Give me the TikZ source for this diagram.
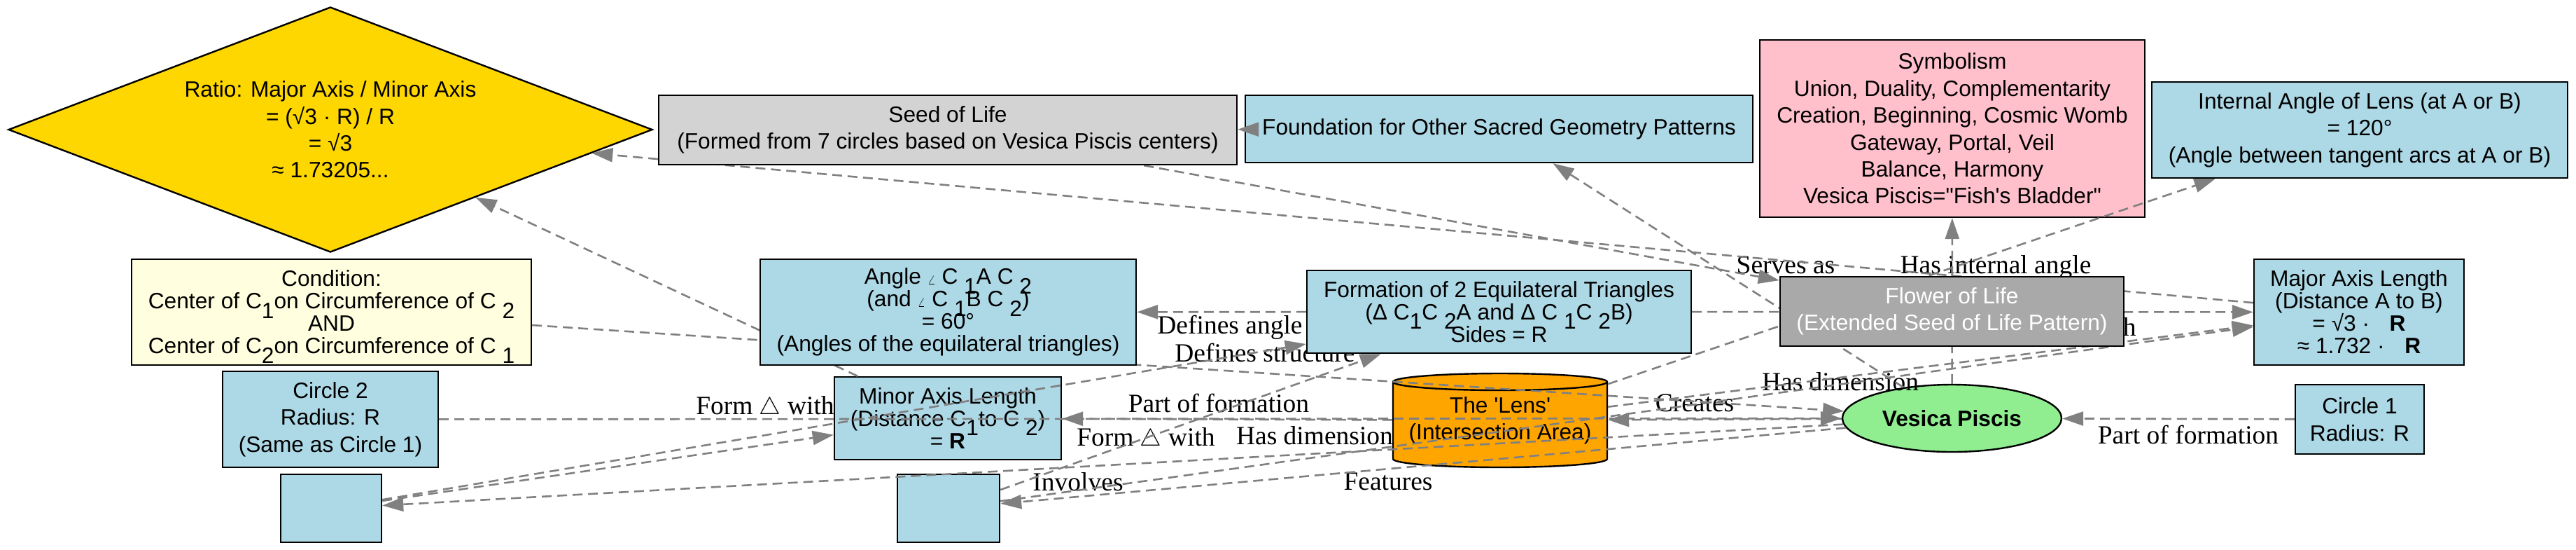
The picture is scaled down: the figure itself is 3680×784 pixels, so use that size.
\documentclass[tikz,border=0pt]{standalone}
\usepackage{fontspec}
\setmainfont{Liberation Sans}
\newfontfamily\lblfont{Liberation Serif}
\usetikzlibrary{shapes.geometric,arrows.meta}
\pgfdeclarelayer{front}
\pgfsetlayers{main,front}
\definecolor{gvblue}{HTML}{ADD8E6}
\definecolor{gvpink}{HTML}{FFC0CB}
\definecolor{gvyellow}{HTML}{FFFFE0}
\definecolor{gvgold}{HTML}{FFD700}
\definecolor{gvorange}{HTML}{FFA500}
\definecolor{gvgreen}{HTML}{90EE90}
\definecolor{gvlgray}{HTML}{D3D3D3}
\definecolor{gvdgray}{HTML}{A9A9A9}
\definecolor{gvedge}{HTML}{808080}
\newcommand\sbs[1]{\raisebox{-0.42em}[0pt][0pt]{#1}}
\newcommand\angsym{{\small$\angle$}}
\begin{document}
\begin{tikzpicture}[x=0.5pt,y=-0.5pt,
  nd/.style={rectangle, draw=black, line width=1.2pt, inner sep=0pt, align=center,
             font=\fontsize{15.85pt}{19.2pt}\selectfont},
  ht/.style={nd, font=\fontsize{15.85pt}{16pt}\selectfont},
  conn/.style={draw=gvedge, line width=1.3pt, dash pattern=on 7pt off 4pt,
               -{Triangle[length=15pt,width=10pt]}},
  lbl/.style={inner sep=0pt, font=\lblfont\fontsize{18.75pt}{20pt}\selectfont}]
\fill[white] (0,0) rectangle (3680,784);
\useasboundingbox (0,0) rectangle (3680,784);

% nodes lying under the connectors
\node[nd, shape=diamond, fill=gvgold, aspect=2.63, minimum width=460pt, minimum height=175pt] (ratio) at (472,185)
  {Ratio: Major Axis / Minor Axis\\= (√3 · R) / R\\= √3\\≈ 1.73205...};
\node[nd, fill=gvpink, minimum width=275pt, minimum height=126.5pt] (symb) at (2789,183.5)
  {Symbolism\\Union, Duality, Complementarity\\Creation, Beginning, Cosmic Womb\\Gateway, Portal, Veil\\Balance, Harmony\\Vesica Piscis=\textquotedbl Fish\textquotesingle s Bladder\textquotedbl};
\node[nd, fill=gvblue, minimum width=297pt, minimum height=68.5pt] (iang) at (3371,185.5)
  {Internal Angle of Lens (at A or B)\\= 120°\\(Angle between tangent arcs at A or B)};
\node[nd, fill=gvblue, minimum width=362.5pt, minimum height=48pt] (found) at (2141.5,184)
  {Foundation for Other Sacred Geometry Patterns};
\node[ht, fill=gvyellow, minimum width=285.5pt, minimum height=75.5pt] (cond) at (473.5,445.5)
  {Condition:\\Center of C\sbs{1}on Circumference of C \sbs{2}\\AND\\Center of C\sbs{2}on Circumference of C \sbs{1}};
\node[nd, fill=gvblue, minimum width=154pt, minimum height=68.5pt] (circle2) at (472,598.5)
  {Circle 2\\Radius: R\\(Same as Circle 1)};
\node[nd, fill=gvblue, minimum width=72pt, minimum height=48.5pt] (eb1) at (473,725.5) {};
\node[nd, fill=gvblue, minimum width=73pt, minimum height=48.5pt] (eb2) at (1355,725.5) {};
\node[ht, fill=gvblue, minimum width=162pt, minimum height=59pt] (minor) at (1354,597)
  {Minor Axis Length\\(Distance C\sbs{1}to C \sbs{2})\\= \textbf{R}};
\filldraw[fill=gvorange, draw=black, line width=1.2pt]
  (1990,545) -- (1990,655) arc[start angle=180, end angle=0, x radius=153, y radius=12]
  -- (2296,545) arc[start angle=0, end angle=-180, x radius=153, y radius=12] -- cycle;
\draw[line width=1.2pt] (1990,545) arc[start angle=180, end angle=0, x radius=153, y radius=12];
\node[nd, draw=none, minimum width=153pt, minimum height=67pt] (lens) at (2143,600)
  {The \textquotesingle Lens\textquotesingle\\(Intersection Area)};
\node[nd, shape=ellipse, fill=gvgreen, minimum width=156.5pt, minimum height=48pt] (vesica) at (2788.5,597)
  {\textbf{Vesica Piscis}};
\node[ht, fill=gvblue, minimum width=150pt, minimum height=75.5pt] (major) at (3370,445.5)
  {Major Axis Length\\(Distance A to B)\\= √3 ·\hspace{0.9em}\textbf{R}\\≈ 1.732 ·\hspace{0.9em}\textbf{R}};
\node[nd, fill=gvblue, minimum width=92pt, minimum height=49.5pt] (circle1) at (3371,598.5)
  {Circle 1\\Radius: R};

% nodes lying over the connectors
\begin{pgfonlayer}{front}
\node[nd, fill=gvlgray, minimum width=413pt, minimum height=49.5pt] (seed) at (1354,185.5)
  {Seed of Life\\(Formed from 7 circles based on Vesica Piscis centers)};
\node[ht, fill=gvblue, minimum width=268.5pt, minimum height=75.5pt] (angle) at (1354.5,445.5)
  {Angle \angsym{} C \sbs{1}A C \sbs{2}\\(and \angsym{} C \sbs{1}B C \sbs{2})\\= 60°\\(Angles of the equilateral triangles)};
\node[ht, fill=gvblue, minimum width=274.5pt, minimum height=59pt] (form) at (2141.5,445)
  {Formation of 2 Equilateral Triangles\\(Δ C\sbs{1}C \sbs{2}A and Δ C \sbs{1}C \sbs{2}B)\\Sides = R};
\node[nd, fill=gvdgray, text=white, minimum width=245.5pt, minimum height=49.5pt] (flower) at (2788.5,444.5)
  {Flower of Life\\(Extended Seed of Life Pattern)};
\end{pgfonlayer}

% edge labels
\node[lbl] (l1) at (2551,378) {Serves as};
\node[lbl] (l2) at (2851,382) {Has internal angle};
\node[lbl] (l3) at (1757,467) {Defines angle};
\node[lbl] (l4) at (1807,503) {Defines structure};
\node[lbl] (l5) at (1093,582) {Form $\triangle$ with};
\node[lbl] (l6) at (1741,575) {Part of formation};
\node[lbl] (l7) at (1637,627) {Form $\triangle$ with};
\node[lbl] (l8) at (1878,622) {Has dimension};
\node[lbl] (l9) at (1540,688) {Involves};
\node[lbl] (l10) at (1983,687) {Features};
\node[lbl] (l11) at (2421,575) {Creates};
\node[lbl] (l12) at (2629,545) {Has dimension};
\node[lbl] (l13) at (3126,620) {Part of formation};
\node[lbl, anchor=east] (l14) at (3052,470) {Defines length};

% connectors
\draw[conn] (major) -- (ratio);
\draw[conn] (minor) -- (ratio);
\draw[conn] (cond) -- (vesica);
\draw[conn] (form) -- (angle);
\draw[conn] (form) -- (major);
\draw[conn] (circle2) -- (vesica);
\draw[conn] (circle1) -- (vesica);
\draw[conn] (vesica) -- (lens);
\draw[conn] (lens) -- (minor);
\draw[conn] (lens) -- (iang);
\draw[conn] (lens) -- (major);
\draw[conn] (eb2) -- (major);
\draw[conn] (vesica) -- (symb);
\draw[conn] (vesica) -- (found);
\draw[conn] (seed) -- (flower);
\draw[conn] (found) -- (seed);
\draw[conn] (vesica) -- (eb1);
\draw[conn] (vesica) -- (eb2);
\draw[conn] (eb1) -- (form);
\draw[conn] (eb2) -- (form);
\draw[conn] (eb1) -- (minor);
\end{tikzpicture}
\end{document}
